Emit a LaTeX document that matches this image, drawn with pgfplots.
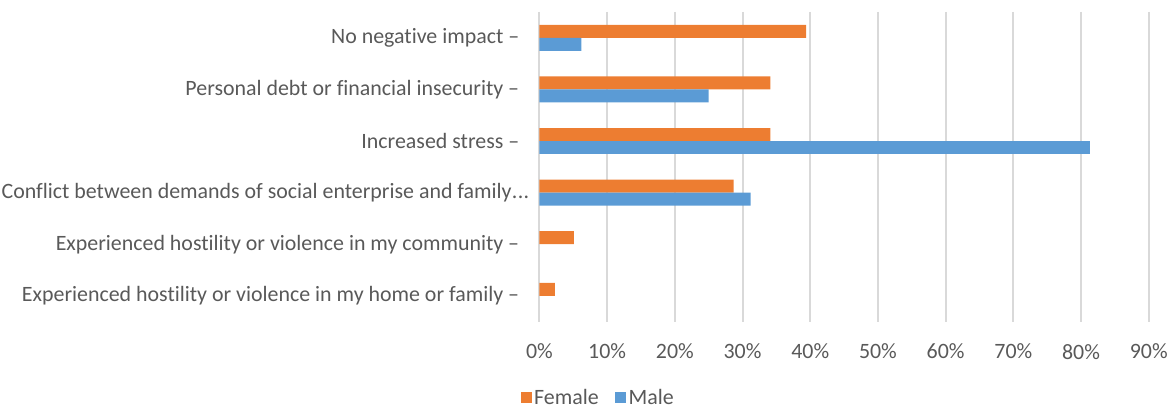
\documentclass[border=0pt]{standalone}
\usepackage{pgfplots}
\pgfplotsset{compat=1.18}
\usepackage{fontspec}
\setmainfont[Ligatures=NoCommon]{Carlito}
\definecolor{female}{HTML}{ED7D31}
\definecolor{male}{HTML}{5B9BD5}
\definecolor{txt}{HTML}{595959}
\definecolor{gridc}{HTML}{D9D9D9}
\begin{document}
\begin{tikzpicture}[font=\fontsize{22}{26}\selectfont]
\begin{axis}[
 scale only axis, width=610bp, height=310bp,
 xmin=0, xmax=90, ymin=-0.5, ymax=5.5, y dir=reverse,
 xbar, bar width=13bp,
 axis line style={draw=none},
 major tick length=0pt,
 xmajorgrids, grid style={gridc, line width=2bp},
 xtick={0,10,...,90},
 xticklabels={0\%,10\%,20\%,30\%,40\%,50\%,60\%,70\%,80\%,90\%},
 ytick={0,1,2,3,4,5},
 yticklabels={{No negative impact –},{Personal debt or financial insecurity –},{Increased stress –},{Conflict between demands of social enterprise and family\kern0.3pt.\kern0.3pt.\kern0.3pt.\kern-10bp},{Experienced hostility or violence in my community –},{Experienced hostility or violence in my home or family –}},
 xticklabel style={anchor=center, yshift=-30bp, text=txt},
 yticklabel style={anchor=east, inner sep=0pt, xshift=-20bp, text=txt},
 legend style={at={(0.097,-0.245)}, anchor=center, draw=none, fill=none, legend columns=2, text=txt, nodes={inner sep=2.5bp}, /tikz/every even column/.append style={column sep=14bp}},
 legend image code/.code={\fill[#1] (0bp,-5.5bp) rectangle (11bp,5.5bp);},
]
\addplot[fill=female, draw=none, bar shift=6.5bp] coordinates {(39.4,0) (34.1,1) (34.1,2) (28.7,3) (5.1,4) (2.3,5)};
\addplot[fill=male, draw=none, bar shift=-6.5bp] coordinates {(6.2,0) (25,1) (81.3,2) (31.2,3)};
\legend{Female,Male}
\end{axis}
\path ([xshift=-540bp,yshift=-85bp]current axis.south west) rectangle ([xshift=21bp,yshift=12bp]current axis.north east);
\end{tikzpicture}
\end{document}
